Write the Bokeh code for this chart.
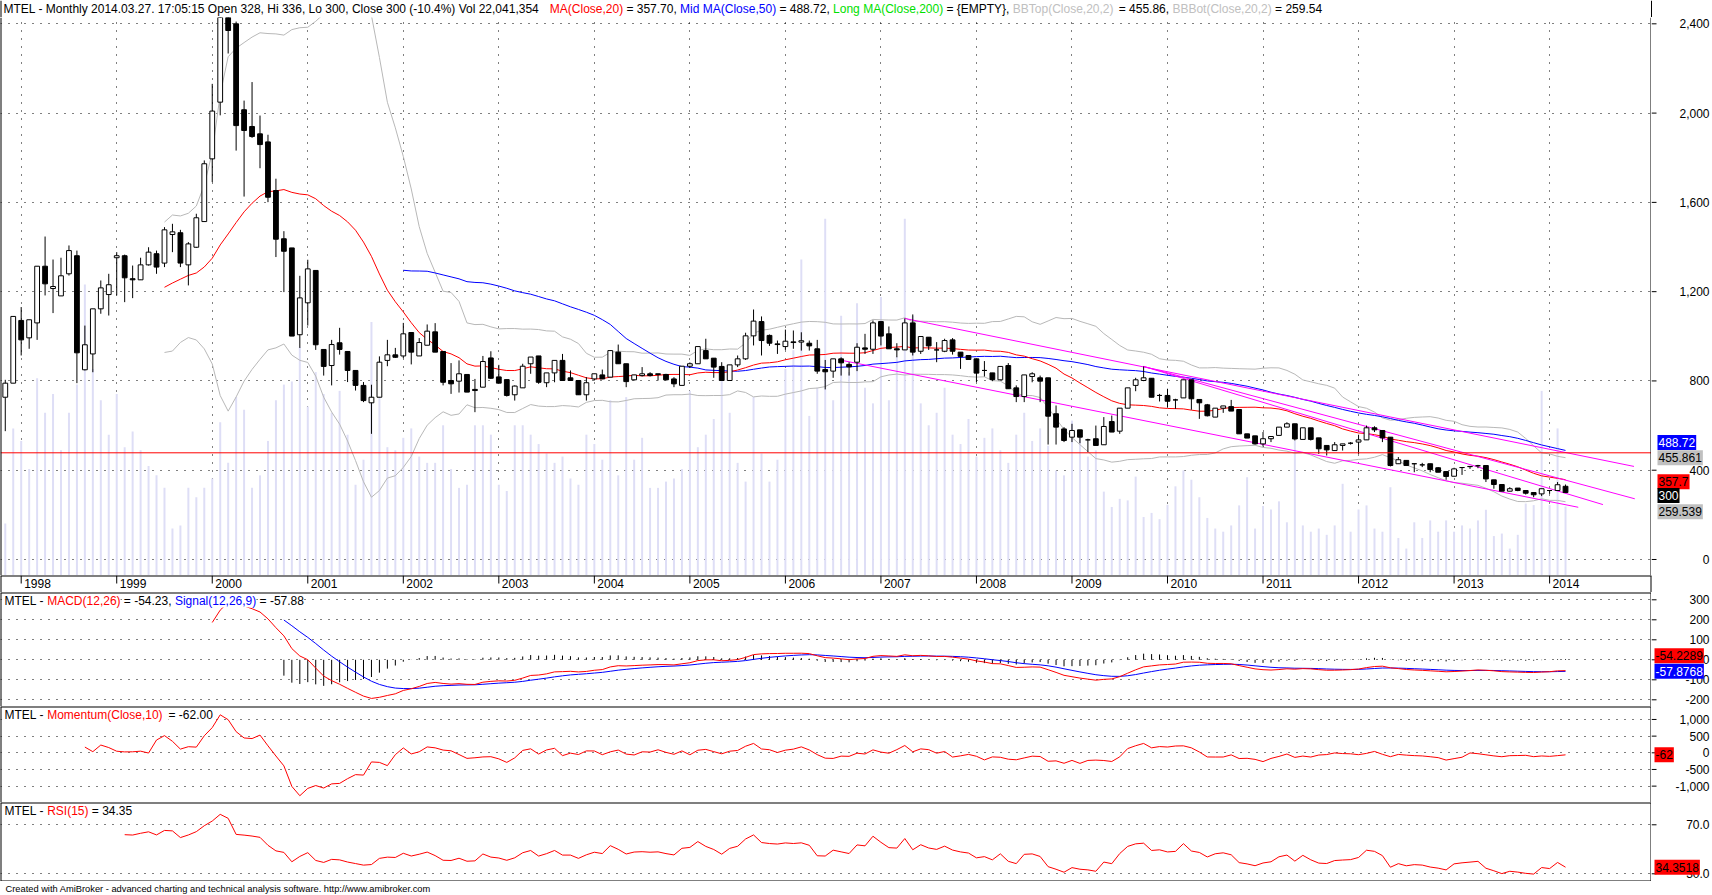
import numpy as np
import pandas as pd
from bokeh.plotting import figure
from bokeh.layouts import column, row
from bokeh.models import Range1d, FixedTicker, Label, Span, Grid, ColumnDataSource
from bokeh.embed import file_html
from bokeh.resources import INLINE
from bokeh.core.properties import value

FONT = "Liberation Sans"

# ---------------- data: monthly bars, Nov 1997 .. Mar 2014 ----------------
OPEN = [727, 790, 1071, 993, 1060, 1314, 1214, 1181, 1280, 1361,
        850, 921, 1123, 1187, 1352, 1361, 1258, 1253, 1320, 1370,
        1328, 1456, 1464, 1320, 1399, 1514, 1795, 2049, 2440, 2400,
        2015, 1940, 1907, 1871, 1653, 1437, 1396, 1007, 1150, 1295,
        941, 869, 971, 932, 847, 780, 702, 727, 892, 917,
        912, 1017, 912, 960, 1020, 932, 802, 799, 829, 762,
        772, 903, 818, 806, 738, 769, 877, 912, 792, 836,
        892, 814, 802, 738, 809, 827, 817, 929, 877, 805,
        824, 832, 832, 829, 809, 780, 866, 877, 936, 902,
        865, 802, 872, 899, 1002, 1066, 1004, 966, 954, 975,
        974, 969, 944, 851, 844, 899, 874, 884, 948, 942,
        1066, 1011, 944, 939, 1060, 933, 996, 939, 933, 984,
        929, 914, 899, 847, 836, 805, 869, 769, 730, 820,
        814, 814, 653, 585, 548, 581, 536, 541, 514, 618,
        575, 678, 780, 802, 812, 735, 735, 715, 724, 805,
        717, 693, 638, 678, 685, 672, 563, 554, 518, 541,
        556, 593, 608, 538, 590, 545, 511, 488, 511, 521,
        526, 536, 590, 578, 548, 429, 444, 429, 424, 429,
        411, 394, 373, 412, 417, 420, 421, 357, 336, 306,
        320, 309, 300, 294, 309, 309, 328]
HIGH = [805, 1089, 1131, 1074, 1314, 1447, 1344, 1352, 1407, 1384,
        1048, 1123, 1250, 1280, 1377, 1366, 1317, 1352, 1399, 1384,
        1489, 1504, 1477, 1422, 1549, 1788, 2131, 2520, 2520, 2410,
        2056, 2139, 1989, 1903, 1706, 1471, 1396, 1271, 1343, 1295,
        941, 984, 1038, 932, 847, 795, 783, 910, 984, 948,
        1060, 1017, 992, 1053, 1059, 932, 880, 892, 829, 809,
        912, 933, 872, 806, 780, 877, 907, 912, 836, 892,
        921, 847, 802, 817, 832, 851, 936, 963, 877, 827,
        862, 839, 832, 832, 817, 866, 883, 954, 989, 902,
        884, 872, 914, 1016, 1120, 1089, 1008, 981, 1030, 1026,
        1018, 981, 984, 894, 899, 906, 884, 969, 1011, 1071,
        1066, 1044, 969, 1080, 1098, 999, 996, 974, 989, 992,
        929, 914, 899, 889, 836, 865, 880, 780, 827, 839,
        824, 814, 690, 593, 608, 581, 541, 600, 638, 645,
        678, 769, 814, 865, 812, 742, 765, 720, 805, 805,
        717, 697, 678, 688, 715, 672, 563, 554, 571, 551,
        593, 615, 608, 590, 590, 545, 511, 526, 518, 526,
        559, 600, 597, 578, 548, 459, 444, 429, 433, 429,
        414, 394, 411, 414, 417, 424, 421, 357, 336, 324,
        320, 309, 300, 317, 309, 347, 336]
LOW = [575, 790, 914, 944, 984, 1183, 1104, 1181, 1272, 790,
       847, 839, 1101, 1093, 1183, 1153, 1171, 1253, 1317, 1280,
       1310, 1377, 1310, 1228, 1396, 1514, 1691, 1990, 2267, 1832,
       1626, 1889, 1753, 1601, 1355, 1198, 1001, 948, 1048, 939,
       824, 780, 918, 795, 757, 705, 563, 727, 866, 903,
       902, 874, 912, 960, 929, 780, 742, 748, 750, 660,
       772, 809, 790, 730, 712, 769, 832, 787, 772, 794,
       802, 802, 738, 712, 802, 809, 817, 877, 772, 802,
       820, 820, 802, 802, 772, 780, 858, 877, 899, 814,
       802, 802, 862, 894, 959, 914, 957, 921, 939, 944,
       936, 936, 832, 762, 814, 824, 824, 844, 921, 921,
       959, 944, 906, 939, 914, 921, 939, 884, 929, 918,
       854, 896, 795, 820, 799, 805, 765, 705, 705, 794,
       705, 515, 515, 526, 526, 521, 481, 511, 514, 571,
       563, 678, 754, 799, 727, 708, 682, 675, 724, 671,
       630, 641, 638, 657, 665, 563, 544, 515, 506, 526,
       556, 593, 533, 538, 533, 473, 466, 488, 488, 515,
       473, 536, 571, 526, 417, 429, 421, 391, 414, 391,
       391, 357, 373, 379, 406, 409, 347, 317, 306, 306,
       306, 291, 279, 284, 294, 309, 300]
CLOSE = [790, 1089, 984, 1074, 1314, 1235, 1223, 1271, 1384, 926,
         962, 1123, 1217, 1231, 1361, 1262, 1253, 1320, 1377, 1310,
         1477, 1468, 1328, 1414, 1531, 1773, 2009, 2460, 2370, 1944,
         1922, 1895, 1859, 1623, 1435, 1381, 1001, 1172, 1302, 962,
         865, 963, 941, 847, 780, 712, 727, 884, 917, 906,
         1011, 929, 972, 1023, 929, 794, 787, 832, 750, 757,
         887, 812, 790, 735, 777, 866, 907, 794, 836, 892,
         802, 802, 738, 792, 832, 809, 936, 877, 797, 827,
         832, 824, 829, 805, 787, 866, 877, 954, 899, 862,
         802, 872, 899, 1002, 1068, 981, 969, 963, 978, 972,
         980, 957, 844, 841, 899, 881, 863, 951, 942, 1060,
         1001, 944, 939, 1060, 929, 999, 957, 939, 981, 933,
         910, 896, 835, 847, 806, 865, 765, 730, 827, 832,
         799, 642, 593, 533, 578, 548, 536, 511, 596, 571,
         678, 769, 805, 814, 727, 735, 709, 715, 805, 720,
         702, 644, 678, 688, 665, 563, 544, 518, 541, 551,
         593, 608, 540, 590, 538, 496, 491, 514, 518, 521,
         536, 590, 581, 545, 421, 447, 421, 429, 424, 403,
         391, 372, 406, 412, 416, 420, 361, 336, 306, 317,
         309, 297, 290, 317, 309, 335, 300]
VOLUME_M = [16.6, 47, 43, 34, 63, 52, 58, 40, 52, 61,
            93, 66, 56, 45, 58, 41, 46, 40, 35, 32,
            28, 15, 16, 28, 25, 28, 31, 49, 36, 57,
            53, 28, 32, 43, 56, 61, 62, 73, 54, 65,
            58, 52, 59, 45, 29, 37, 81, 57, 41, 40,
            44, 47, 38, 36, 36, 48, 34, 28, 29, 48,
            48, 45, 29, 27, 48, 48, 45, 42, 39, 36,
            38, 31, 29, 45, 42, 37, 56, 32, 57, 37,
            44, 28, 28, 30, 31, 34, 59, 41, 45, 50,
            63, 52, 36, 30, 57, 39, 30, 37, 66, 72,
            101, 51, 60, 114, 56, 83, 65, 87, 60, 55,
            89, 56, 70, 114, 83, 55, 48, 52, 60, 45,
            42, 50, 38, 44, 47, 40, 36, 45, 52, 43,
            47, 41.5, 33.5, 32, 49.5, 44, 38, 40, 26.8, 21.9,
            24.5, 24, 31.6, 18.7, 20, 18, 22.6, 28.5, 33.6, 30.6,
            25, 18.4, 15, 14, 16, 22.4, 31.4, 15, 22.2, 21.1,
            23.7, 17, 43.1, 16, 14, 15, 13, 16, 29.3, 14,
            21.1, 22.4, 15, 14, 28.2, 12, 8.6, 17, 12, 17.6,
            14, 17.6, 14, 16, 15, 17.6, 21, 12.6, 13.4, 8.6,
            13, 23, 22.5, 59, 22.5, 47, 22.04]

YEARS = [str(y) for y in range(1998, 2015)]
YEAR_BARS = [2 + 12 * k for k in range(len(YEARS))]   # bar index of each January

PRICE_TICKS = [0, 400, 800, 1200, 1600, 2000, 2400]
PRICE_LABELS = ["0", "400", "800", "1,200", "1,600", "2,000", "2,400"]
MACD_TICKS = [-200, -100, 0, 100, 200, 300]
MACD_LABELS = ["-200", "-100", "0", "100", "200", "300"]
MOM_TICKS = [-1000, -500, 0, 500, 1000]
MOM_LABELS = ["-1,000", "-500", "0", "500", "1,000"]
RSI_TICKS = [30, 70]
RSI_LABELS = ["30.0", "70.0"]

HLINE_LEVEL = 478
TL_X0 = [113, 143, 143, 104.7]
TL_Y0 = [1080, 865, 865, 895]
TL_X1 = [204.6, 204.7, 200.7, 197.6]
TL_Y1 = [417, 272, 246, 234]

# ---------------- indicators ----------------
n = len(CLOSE)
idx = np.arange(n)
c = pd.Series(CLOSE, dtype=float)
ma20 = c.rolling(20).mean(); ma20[:20] = np.nan
sd20 = c.rolling(20).std(ddof=0)
bbt = ma20 + 2 * sd20
bbb = ma20 - 2 * sd20
ma50 = c.rolling(50).mean(); ma50[:50] = np.nan
macd = c.ewm(span=12, adjust=False).mean() - c.ewm(span=26, adjust=False).mean()
macd[:26] = np.nan
sig = macd.ewm(span=9, adjust=False).mean(); sig[:35] = np.nan
hist = macd - sig
mom = c - c.shift(10)


def rsi_wilder(vals, per):
    d = np.diff(vals)
    g = np.where(d > 0, d, 0.0)
    l = np.where(d < 0, -d, 0.0)
    out = np.full(len(vals), np.nan)
    ag = g[:per].mean(); al = l[:per].mean()
    out[per] = 100 - 100 / (1 + ag / al)
    for k in range(per + 1, len(vals)):
        ag = (ag * (per - 1) + g[k - 1]) / per
        al = (al * (per - 1) + l[k - 1]) / per
        out[k] = 100 - 100 / (1 + ag / al)
    return out


rsi = rsi_wilder(np.array(CLOSE, dtype=float), 15)

# ---------------- layout ----------------
FW = 1651          # plot-area width
RB = 61            # right-hand scale area width
TW = FW + RB
XR = Range1d(-0.6, 206.8)


def bare(fw, fh, xr, yr, border_right=0):
    f = figure(frame_width=fw, frame_height=fh, x_range=xr, y_range=yr,
               toolbar_location=None, output_backend="svg", min_border=0,
               min_border_right=border_right, x_axis_location=None, y_axis_location=None)
    f.outline_line_color = None
    f.grid.visible = False
    return f


def borders(p, yr, top=True, bottom=False):
    p.add_layout(Span(location=XR.start, dimension="height", line_color="black", line_width=2))
    p.add_layout(Span(location=XR.end, dimension="height", line_color="black", line_width=2))
    if top:
        p.add_layout(Span(location=yr.end, dimension="width", line_color="black", line_width=2))
    if bottom:
        p.add_layout(Span(location=yr.start, dimension="width", line_color="black", line_width=2))


def hgrid(p, ticks):
    p.add_layout(Grid(dimension=1, ticker=FixedTicker(ticks=ticks), grid_line_color="black",
                      grid_line_dash="1 7", grid_line_width=1))


def scale_side(fh, yr, ticks, labels):
    s = bare(RB, fh, Range1d(0, RB), yr)
    s.segment(x0=[0] * len(ticks), y0=ticks, x1=[5] * len(ticks), y1=ticks,
              line_color="black", line_width=1)
    s.text(x=[58] * len(ticks), y=ticks, text=labels, text_align="right", text_baseline="middle",
           text_font=value(FONT), text_font_size=value("12px"), text_color="black")
    return s


def title(p, segs, yr):
    for txt, col, off in segs:
        p.add_layout(Label(x=XR.start, y=yr.end, x_offset=off, y_offset=-8, text=txt,
                           text_align="left", text_baseline="middle", text_font=FONT,
                           text_font_size="12px", text_color=col,
                           background_fill_color="white"))


def vbox(s, yv, txt, bg, fg, x, yoff=0):
    s.add_layout(Label(x=x, y=yv, y_offset=yoff, text=txt, padding=(1, 3),
                       text_align="left", text_baseline="middle", text_font=FONT,
                       text_font_size="12px", text_color=fg, background_fill_color=bg))


# header line
hdr = bare(TW, 17, Range1d(0, TW), Range1d(0, 17))
HDR_TXT = ["MTEL - Monthly 2014.03.27. 17:05:15 Open 328, Hi 336, Lo 300, Close 300 (-10.4%) Vol 22,041,354",
           "MA(Close,20)", "= 357.70,", "Mid MA(Close,50)", "= 488.72,", "Long MA(Close,200)",
           "= {EMPTY},", "BBTop(Close,20,2)", "= 455.86,", "BBBot(Close,20,2)", "= 259.54"]
HDR_COL = ["black", "#FF0000", "black", "#0000FF", "black", "#00E000", "black",
           "#C0C0C0", "black", "#C0C0C0", "black"]
HDR_X = [3, 549.3, 625.9, 679.6, 778.9, 832.6, 945.9, 1012.3, 1118.2, 1171.9, 1274.6]
hdr.text(x=HDR_X, y=[8.8] * len(HDR_X), text=HDR_TXT, text_color=HDR_COL,
         text_font=value(FONT), text_font_size=value("12px"), text_baseline="middle", text_align="left")
hdr.add_layout(Span(location=0, dimension="height", line_color="black", line_width=2))
hdr.add_layout(Span(location=FW, dimension="height", line_color="black", line_width=1))

# main price pane
YR_MAIN = Range1d(-71.7, 2428.3)
pm = bare(FW, 558, XR, YR_MAIN)
pm.extra_y_ranges = {"vol": Range1d(0, 178.3)}
hgrid(pm, PRICE_TICKS)
pm.add_layout(Grid(dimension=0, ticker=FixedTicker(ticks=YEAR_BARS), grid_line_color="black",
                   grid_line_dash="1 7", grid_line_width=1))
pm.vbar(x=idx, top=VOLUME_M, bottom=0, width=0.25, y_range_name="vol",
        fill_color="#DEDEF6", line_color=None)
pm.line(idx, bbt, color="#B8B8B8", line_width=1)
pm.line(idx, bbb, color="#B8B8B8", line_width=1)
pm.line(idx, ma50, color="#0000FF", line_width=1)
pm.line(idx, ma20, color="#FF0000", line_width=1)
pm.add_layout(Span(location=HLINE_LEVEL, dimension="width", line_color="#FF0000", line_width=1))
pm.segment(x0=TL_X0, y0=TL_Y0, x1=TL_X1, y1=TL_Y1, line_color="#FF00FF", line_width=1)

o = np.array(OPEN, float); cl = np.array(CLOSE, float)
src = ColumnDataSource(dict(x=idx, o=o, h=HIGH, l=LOW, c=cl,
                            top=np.maximum(o, cl), bot=np.minimum(o, cl),
                            fill=np.where(cl > o, "white", "black")))
pm.segment(x0="x", y0="l", x1="x", y1="h", source=src, line_color="black", line_width=1)
pm.vbar(x="x", top="top", bottom="bot", width=0.6, source=src, fill_color="fill",
        line_color="black", line_width=1)
borders(pm, YR_MAIN, top=False)

sm = scale_side(558, YR_MAIN, PRICE_TICKS, PRICE_LABELS)
vbox(sm, ma50.iloc[-1], "488.72", "#0000FF", "white", 6, 8)
vbox(sm, bbt.iloc[-1], "455.861", "#C0C0C0", "black", 6, 0)
vbox(sm, ma20.iloc[-1], "357.7", "#FF0000", "black", 6, -2)
vbox(sm, cl[-1], "300", "black", "white", 6, -3)
vbox(sm, bbb.iloc[-1], "259.539", "#C0C0C0", "black", 6, -10)

# date strip
YR_DATE = Range1d(0, 17)
pd_ = bare(FW, 17, XR, YR_DATE, border_right=RB)
pd_.segment(x0=YEAR_BARS, y0=[17] * len(YEAR_BARS), x1=YEAR_BARS, y1=[9] * len(YEAR_BARS),
            line_color="black", line_width=1)
pd_.text(x=YEAR_BARS, y=[9.0] * len(YEAR_BARS), text=YEARS, x_offset=3, text_align="left",
         text_baseline="middle", text_font=value(FONT), text_font_size=value("12px"), text_color="black")
borders(pd_, YR_DATE, top=True)

# MACD pane
YR_MACD = Range1d(-233.5, 336.5)
pmacd = bare(FW, 114, XR, YR_MACD)
hgrid(pmacd, MACD_TICKS)
pmacd.segment(x0=idx, y0=np.zeros(n), x1=idx, y1=hist, line_color="black", line_width=1)
pmacd.line(idx, sig, color="#0000FF", line_width=1)
pmacd.line(idx, macd, color="#FF0000", line_width=1)
title(pmacd, [("MTEL -", "black", 4), ("MACD(12,26)", "#FF0000", 46.7), ("= -54.23,", "black", 123.3),
              ("Signal(12,26,9)", "#0000FF", 174.4), ("= -57.88", "black", 259.1)], YR_MACD)
borders(pmacd, YR_MACD, top=True)
smacd = scale_side(114, YR_MACD, MACD_TICKS, MACD_LABELS)
vbox(smacd, macd.iloc[-1], "-54.2289", "#FF0000", "black", 3, 15)
vbox(smacd, sig.iloc[-1], "-57.8768", "#0000FF", "white", 3, 0)

# Momentum pane
YR_MOM = Range1d(-1491, 1389)
pmom = bare(FW, 96, XR, YR_MOM)
hgrid(pmom, MOM_TICKS)
pmom.line(idx, mom, color="#FF0000", line_width=1)
title(pmom, [("MTEL -", "black", 4), ("Momentum(Close,10)", "#FF0000", 46.7), ("= -62.00", "black", 168)], YR_MOM)
borders(pmom, YR_MOM, top=True)
smom = scale_side(96, YR_MOM, MOM_TICKS, MOM_LABELS)
vbox(smom, mom.iloc[-1], "-62", "#FF0000", "black", 3, 0)

# RSI pane
YR_RSI = Range1d(23.7, 88.2)
prsi = bare(FW, 79, XR, YR_RSI)
hgrid(prsi, RSI_TICKS)
prsi.line(idx, rsi, color="#FF0000", line_width=1)
title(prsi, [("MTEL -", "black", 4), ("RSI(15)", "#FF0000", 46.7), ("= 34.35", "black", 91.3)], YR_RSI)
borders(prsi, YR_RSI, top=True, bottom=True)
srsi = scale_side(79, YR_RSI, RSI_TICKS, RSI_LABELS)
vbox(srsi, rsi[-1], "34.3518", "#FF0000", "black", 3, 0)

# footer
foot = bare(TW, 14, Range1d(0, TW), Range1d(0, 14))
foot.text(x=[5], y=[7], text=["Created with AmiBroker - advanced charting and technical analysis software. http://www.amibroker.com"],
          text_color="black", text_font=value(FONT), text_font_size=value("9.3px"),
          text_baseline="middle", text_align="left")

layout = column(hdr, row(pm, sm, spacing=0), pd_, row(pmacd, smacd, spacing=0),
                row(pmom, smom, spacing=0), row(prsi, srsi, spacing=0), foot, spacing=0)
open("out.html", "w").write(file_html(layout, INLINE))
